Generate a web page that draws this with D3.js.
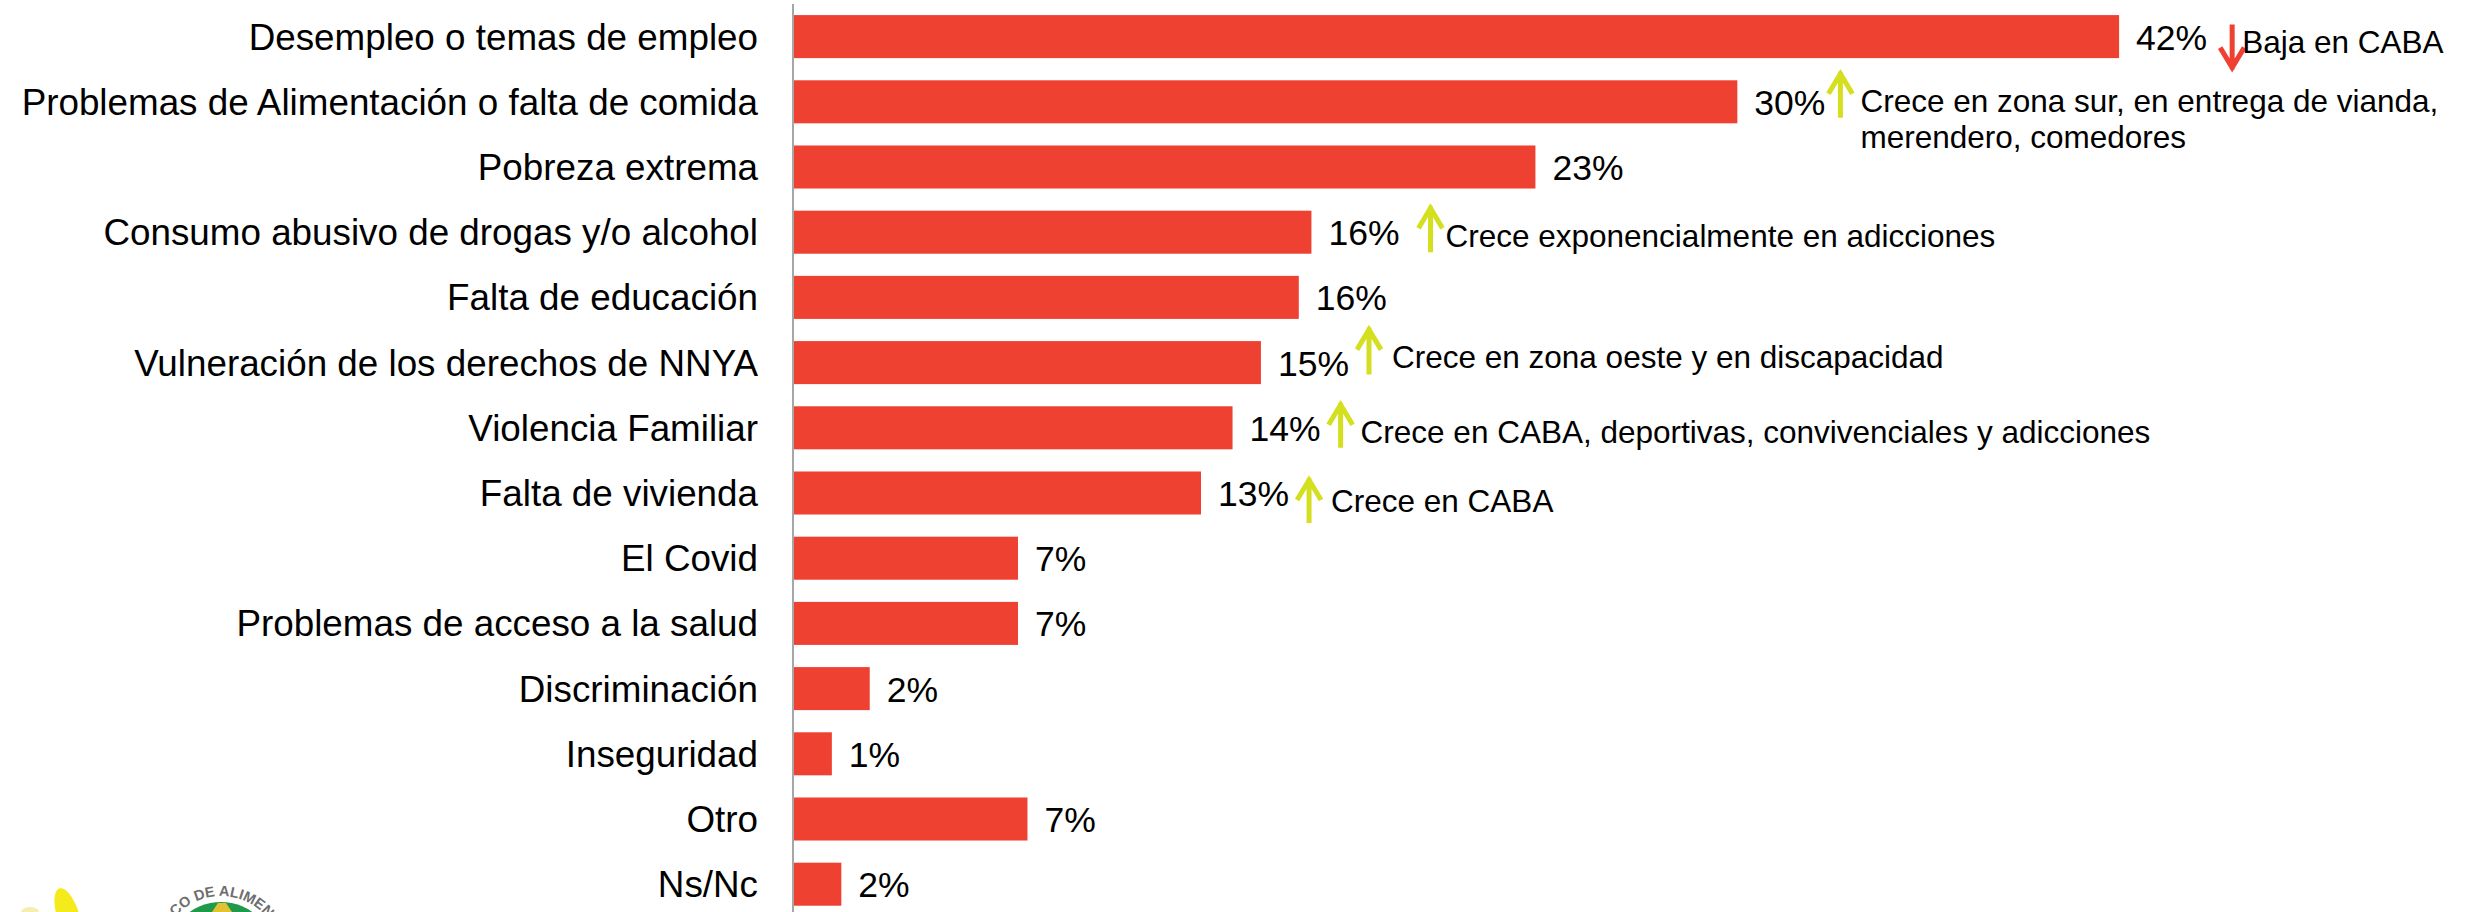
<!DOCTYPE html>
<html>
<head>
<meta charset="utf-8">
<script src="https://cdn.jsdelivr.net/npm/d3@7"></script>
<style>
  body { margin: 0; background: #fff; }
  svg { display: block; font-family: "Liberation Sans", Arial, sans-serif; }
</style>
</head>
<body>
<svg class="canvas" width="2471" height="912"></svg>
<script>
// data (bar lengths) and the printed labels
var categories = [
    "Desempleo o temas de empleo",
    "Problemas de Alimentación o falta de comida",
    "Pobreza extrema",
    "Consumo abusivo de drogas y/o alcohol",
    "Falta de educación",
    "Vulneración de los derechos de NNYA",
    "Violencia Familiar",
    "Falta de vivienda",
    "El Covid",
    "Problemas de acceso a la salud",
    "Discriminación",
    "Inseguridad",
    "Otro",
    "Ns/Nc"
];
var values = [42.0, 29.9, 23.5, 16.4, 16.0, 14.8, 13.9, 12.9, 7.1, 7.1, 2.4, 1.2, 7.4, 1.5];
var labels = [42, 30, 23, 16, 16, 15, 14, 13, 7, 7, 2, 1, 7, 2];

var notes = [
    { cat: "Desempleo o temas de empleo", dir: "down", text: ["Baja en CABA"] },
    { cat: "Problemas de Alimentación o falta de comida", dir: "up", text: ["Crece en zona sur, en entrega de vianda,", "merendero, comedores"] },
    { cat: "Consumo abusivo de drogas y/o alcohol", dir: "up", text: ["Crece exponencialmente en adicciones"] },
    { cat: "Vulneración de los derechos de NNYA", dir: "up", text: ["Crece en zona oeste y en discapacidad"] },
    { cat: "Violencia Familiar", dir: "up", text: ["Crece en CABA, deportivas, convivenciales y adicciones"] },
    { cat: "Falta de vivienda", dir: "up", text: ["Crece en CABA"] }
];

// hand placement of each note, relative to the row
var noteLayout = [
    { gap: 25, y0: -12, y1: 33, tgap: 10, dy: 16 },
    { gap: 15, y0: -30, y1: 16, tgap: 20, dy: 10 },
    { gap: 31, y0: -26, y1: 20, tgap: 15, dy: 15 },
    { gap: 20, y0: -35, y1: 12, tgap: 23, dy: 5 },
    { gap: 20, y0: -25, y1: 20, tgap: 20, dy: 15 },
    { gap: 20, y0: -15, y1: 30, tgap: 22, dy: 19 }
];

var RED = "#ef4131", LIME = "#d4df1f";

var svg = d3.select(".canvas");

var x = d3.scaleLinear().domain([0, 100]).range([794, 794 + 3155]);
var y = d3.scaleBand().domain(categories).range([4, 4 + 14 * 65.2])
    .paddingInner(0.34).paddingOuter(0.17);

function label(tx, ty, str, size, anchor) {
    return svg.append("text")
        .attr("x", tx)
        .attr("y", ty)
        .attr("text-anchor", anchor || "start")
        .style("font-size", size + "px")
        .style("fill", "#000")
        .text(str);
}

var rows = categories.map(function(c, i) { return { cat: c, v: values[i], lab: labels[i] }; });

svg.selectAll(".bar")
    .data(rows)
    .enter()
    .append("rect")
        .attr("class", "bar")
        .attr("x", x(0))
        .attr("y", function(d) { return y(d.cat); })
        .attr("width", function(d) { return x(d.v) - x(0); })
        .attr("height", y.bandwidth())
        .style("fill", RED);

// axis line
var axis = d3.axisLeft(y).tickSize(0).tickFormat("");
svg.append("g")
    .attr("transform", "translate(793,0)")
    .call(axis)
    .call(function(g) {
        g.select(".domain").attr("stroke", "#a6a6a6").attr("stroke-width", 2)
            .attr("d", "M0,4V912");
    });

var mid = function(c) { return y(c) + y.bandwidth() / 2; };

rows.forEach(function(d) {
    label(758, mid(d.cat) + 13, d.cat, 36.8, "end");
});

var pctEnd = {};
rows.forEach(function(d) {
    var t = label(x(d.v) + 17, mid(d.cat) + 13, d.lab + "%", 35.5);
    pctEnd[d.cat] = x(d.v) + 17 + t.node().getComputedTextLength();
});

function arrow(ax, ya, yb, dir, color) {
    var tip = dir === "up" ? ya : yb;
    var back = dir === "up" ? 22 : -22;
    var p = d3.path();
    p.moveTo(ax, ya); p.lineTo(ax, yb);
    p.moveTo(ax - 12, tip + back); p.lineTo(ax, tip + (dir === "up" ? 2 : -2)); p.lineTo(ax + 12, tip + back);
    svg.append("path")
        .attr("d", p.toString())
        .attr("fill", "none")
        .attr("stroke", color)
        .attr("stroke-width", 5);
}

notes.forEach(function(n, i) {
    var L = noteLayout[i];
    var cy = mid(n.cat);
    var ax = pctEnd[n.cat] + L.gap;
    arrow(ax, cy + L.y0, cy + L.y1, n.dir, n.dir === "up" ? LIME : RED);
    n.text.forEach(function(line, k) {
        label(ax + L.tgap, cy + L.dy + k * 36, line, 31.5);
    });
});

// logo fragment in the bottom-left corner
var logo = svg.append("g");
logo.append("ellipse")
    .attr("cx", 68).attr("cy", 915).attr("rx", 11).attr("ry", 28)
    .attr("transform", "rotate(-18,68,915)")
    .style("fill", "#f5ea1c");
logo.append("ellipse")
    .attr("cx", 30).attr("cy", 912).attr("rx", 9).attr("ry", 5)
    .style("fill", "#f4efb0");
logo.append("circle")
    .attr("cx", 221).attr("cy", 956).attr("r", 54)
    .style("fill", "#1f9a4a");
logo.append("path")
    .attr("d", "M218,903 L226,903 L232,912 L212,912 Z")
    .style("fill", "#e2c232");
var arcPath = d3.path();
arcPath.arc(221, 956, 60, Math.PI, 2 * Math.PI);
logo.append("path")
    .attr("id", "logoArc")
    .attr("d", arcPath.toString())
    .attr("fill", "none");
logo.append("text")
    .style("font-size", "14.5px").style("font-weight", "bold").style("fill", "#6d6d6d")
    .append("textPath")
        .attr("href", "#logoArc")
        .attr("startOffset", "50%")
        .attr("text-anchor", "middle")
        .text("BANCO DE ALIMENTOS");
</script>
</body>
</html>
